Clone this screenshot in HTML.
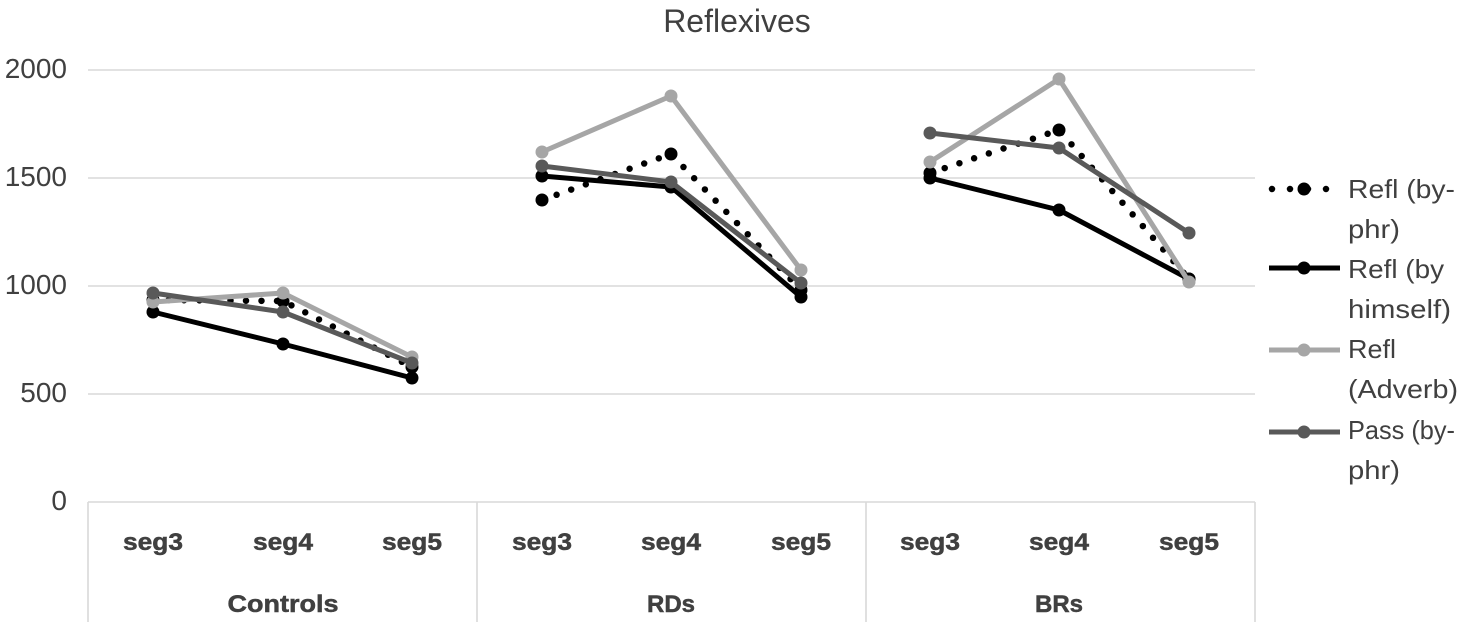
<!DOCTYPE html>
<html><head><meta charset="utf-8"><style>
html,body{margin:0;padding:0;background:#fff;}
svg{display:block;}
text{font-family:"Liberation Sans",sans-serif;fill:#404040;}
</style></head><body>
<svg width="1467" height="630" viewBox="0 0 1467 630" xmlns="http://www.w3.org/2000/svg">
<!-- title -->
<text x="737" y="32" font-size="32" text-anchor="middle">Reflexives</text>
<!-- gridlines -->
<g stroke="#d9d9d9" stroke-width="1.6">
<line x1="88" y1="70" x2="1255" y2="70"/>
<line x1="88" y1="178" x2="1255" y2="178"/>
<line x1="88" y1="286" x2="1255" y2="286"/>
<line x1="88" y1="394" x2="1255" y2="394"/>
<line x1="88" y1="502" x2="1255" y2="502"/>
<line x1="88" y1="502" x2="88" y2="622"/>
<line x1="477" y1="502" x2="477" y2="622"/>
<line x1="866" y1="502" x2="866" y2="622"/>
<line x1="1255" y1="502" x2="1255" y2="622"/>
</g>
<!-- y labels -->
<g font-size="28" text-anchor="end">
<text x="67" y="78">2000</text>
<text x="67" y="186">1500</text>
<text x="67" y="294">1000</text>
<text x="67" y="402">500</text>
<text x="67" y="510">0</text>
</g>
<!-- category labels -->
<g font-size="24" font-weight="bold" text-anchor="middle" stroke="#404040" stroke-width="0.5">
<text x="153" y="550" textLength="60" lengthAdjust="spacingAndGlyphs">seg3</text>
<text x="283" y="550" textLength="60" lengthAdjust="spacingAndGlyphs">seg4</text>
<text x="412" y="550" textLength="60" lengthAdjust="spacingAndGlyphs">seg5</text>
<text x="542" y="550" textLength="60" lengthAdjust="spacingAndGlyphs">seg3</text>
<text x="671" y="550" textLength="60" lengthAdjust="spacingAndGlyphs">seg4</text>
<text x="801" y="550" textLength="60" lengthAdjust="spacingAndGlyphs">seg5</text>
<text x="930" y="550" textLength="60" lengthAdjust="spacingAndGlyphs">seg3</text>
<text x="1059" y="550" textLength="60" lengthAdjust="spacingAndGlyphs">seg4</text>
<text x="1189" y="550" textLength="60" lengthAdjust="spacingAndGlyphs">seg5</text>
</g>
<g font-size="24" font-weight="bold" text-anchor="middle" stroke="#404040" stroke-width="0.5">
<text x="283" y="612" textLength="111" lengthAdjust="spacingAndGlyphs">Controls</text>
<text x="671" y="612" textLength="48" lengthAdjust="spacingAndGlyphs">RDs</text>
<text x="1059" y="612" textLength="48" lengthAdjust="spacingAndGlyphs">BRs</text>
</g>

<!-- Series 1: Refl (by-phr) dotted black -->
<g stroke="#000" stroke-width="6.5" stroke-linecap="round" stroke-dasharray="0 15.5" fill="none">
<polyline points="153,300 283,301 412,367"/>
<polyline points="542,200 671,154 801,290"/>
<polyline points="930,173 1059,130 1189,279"/>
</g>
<g fill="#000">
<circle cx="153" cy="300" r="6.5"/><circle cx="283" cy="301" r="6.5"/><circle cx="412" cy="367" r="6.5"/>
<circle cx="542" cy="200" r="6.5"/><circle cx="671" cy="154" r="6.5"/><circle cx="801" cy="290" r="6.5"/>
<circle cx="930" cy="173" r="6.5"/><circle cx="1059" cy="130" r="6.5"/><circle cx="1189" cy="279" r="6.5"/>
</g>

<!-- Series 2: Refl (by himself) black solid -->
<g stroke="#000" stroke-width="5" stroke-linejoin="round" fill="none">
<polyline points="153,312 283,344 412,378"/>
<polyline points="542,176 671,187 801,297"/>
<polyline points="930,178 1059,210 1189,279"/>
</g>
<g fill="#000">
<circle cx="153" cy="312" r="6.5"/><circle cx="283" cy="344" r="6.5"/><circle cx="412" cy="378" r="6.5"/>
<circle cx="542" cy="176" r="6.5"/><circle cx="671" cy="187" r="6.5"/><circle cx="801" cy="297" r="6.5"/>
<circle cx="930" cy="178" r="6.5"/><circle cx="1059" cy="210" r="6.5"/><circle cx="1189" cy="279" r="6.5"/>
</g>

<!-- Series 3: Refl (Adverb) light grey -->
<g stroke="#a6a6a6" stroke-width="5" stroke-linejoin="round" fill="none">
<polyline points="153,302 283,293 412,357"/>
<polyline points="542,152 671,96 801,270"/>
<polyline points="930,162 1059,79 1189,282"/>
</g>
<g fill="#a6a6a6">
<circle cx="153" cy="302" r="6.5"/><circle cx="283" cy="293" r="6.5"/><circle cx="412" cy="357" r="6.5"/>
<circle cx="542" cy="152" r="6.5"/><circle cx="671" cy="96" r="6.5"/><circle cx="801" cy="270" r="6.5"/>
<circle cx="930" cy="162" r="6.5"/><circle cx="1059" cy="79" r="6.5"/><circle cx="1189" cy="282" r="6.5"/>
</g>

<!-- Series 4: Pass (by-phr) dark grey -->
<g stroke="#595959" stroke-width="5" stroke-linejoin="round" fill="none">
<polyline points="153,293 283,312 412,363"/>
<polyline points="542,166 671,182 801,283"/>
<polyline points="930,133 1059,148 1189,233"/>
</g>
<g fill="#595959">
<circle cx="153" cy="293" r="6.5"/><circle cx="283" cy="312" r="6.5"/><circle cx="412" cy="363" r="6.5"/>
<circle cx="542" cy="166" r="6.5"/><circle cx="671" cy="182" r="6.5"/><circle cx="801" cy="283" r="6.5"/>
<circle cx="930" cy="133" r="6.5"/><circle cx="1059" cy="148" r="6.5"/><circle cx="1189" cy="233" r="6.5"/>
</g>

<!-- Legend -->
<line x1="1272" y1="189" x2="1330" y2="189" stroke="#000" stroke-width="6.5" stroke-linecap="round" stroke-dasharray="0 18"/>
<circle cx="1304" cy="189" r="6.5" fill="#000"/>
<line x1="1269" y1="268" x2="1340" y2="268" stroke="#000" stroke-width="5"/>
<circle cx="1304" cy="268" r="6.5" fill="#000"/>
<line x1="1269" y1="350" x2="1340" y2="350" stroke="#a6a6a6" stroke-width="5"/>
<circle cx="1304" cy="350" r="6.5" fill="#a6a6a6"/>
<line x1="1269" y1="432" x2="1340" y2="432" stroke="#595959" stroke-width="5"/>
<circle cx="1304" cy="432" r="6.5" fill="#595959"/>
<g font-size="26">
<text x="1348" y="198" textLength="107" lengthAdjust="spacingAndGlyphs">Refl (by-</text>
<text x="1348" y="238" textLength="52" lengthAdjust="spacingAndGlyphs">phr)</text>
<text x="1348" y="278" textLength="96" lengthAdjust="spacingAndGlyphs">Refl (by</text>
<text x="1348" y="318" textLength="103" lengthAdjust="spacingAndGlyphs">himself)</text>
<text x="1348" y="358" textLength="48" lengthAdjust="spacingAndGlyphs">Refl</text>
<text x="1348" y="398" textLength="110" lengthAdjust="spacingAndGlyphs">(Adverb)</text>
<text x="1348" y="439" textLength="107" lengthAdjust="spacingAndGlyphs">Pass (by-</text>
<text x="1348" y="479" textLength="52" lengthAdjust="spacingAndGlyphs">phr)</text>
</g>
</svg>
</body></html>
